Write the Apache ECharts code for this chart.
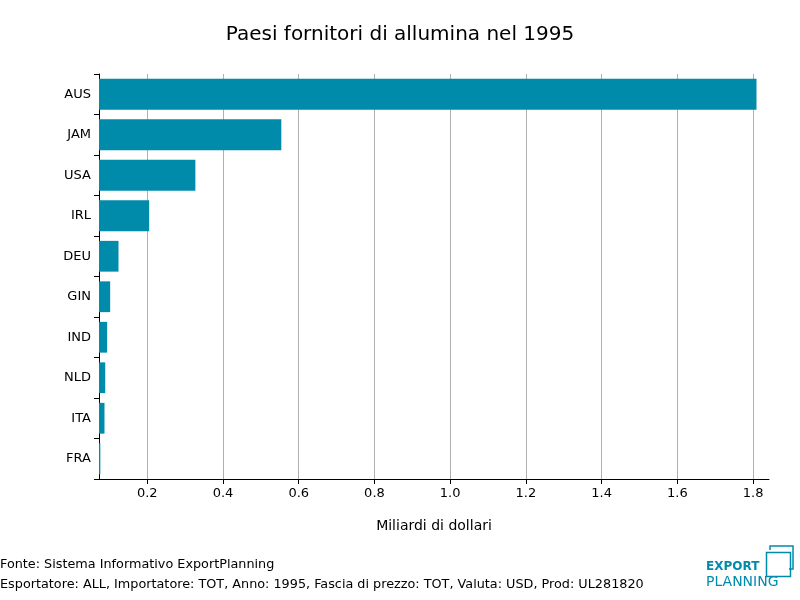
<!DOCTYPE html>
<html><head><meta charset="utf-8">
<script src="https://cdn.jsdelivr.net/npm/echarts@6/dist/echarts.min.js"></script>
<style>body{margin:0}#c{width:800px;height:600px}</style></head>
<body><div id="c"></div>
<script>
const categories = ['AUS','JAM','USA','IRL','DEU','GIN','IND','NLD','ITA','FRA'];
const values = [1.809,0.554,0.327,0.205,0.124,0.102,0.094,0.089,0.087,0.076];
const xTicks = [0.2,0.4,0.6,0.8,1.0,1.2,1.4,1.6,1.8];
const ff = 'DejaVu Sans';
const chart = echarts.init(document.getElementById('c'));
chart.setOption({
  textStyle:{fontFamily:ff},
  title:{text:'Paesi fornitori di allumina nel 1995',left:'center',top:20,textStyle:{fontFamily:ff,fontSize:20,fontWeight:'normal',color:'#000'}},
  grid:{left:99,right:31,top:74,bottom:121},
  xAxis:{type:'value',min:0.0725,max:1.842,minInterval:0.2,maxInterval:0.2,
    name:'Miliardi di dollari',nameLocation:'middle',nameGap:40,nameTextStyle:{fontSize:14,color:'#000'},
    axisLine:{show:true,lineStyle:{color:'#000'}},axisTick:{show:true,lineStyle:{color:'#000'},length:5},
    axisLabel:{color:'#000',fontSize:13,showMinLabel:false,showMaxLabel:false,
      formatter:v=>{const m=xTicks.find(t=>Math.abs(t-v)<1e-6);return m===undefined?'':m.toFixed(1);}},
    splitLine:{show:true,showMinLine:false,showMaxLine:false,lineStyle:{color:'#b0b0b0'}}},
  yAxis:{type:'category',data:categories,inverse:true,
    axisLine:{show:true,lineStyle:{color:'#000'}},axisTick:{show:true,length:5,lineStyle:{color:'#000'}},
    axisLabel:{color:'#000',fontSize:13,margin:8}},
  series:[{type:'bar',data:values,barCategoryGap:'24%',itemStyle:{color:'#008bab'}}],
  graphic:[
    {type:'text',left:0,top:558,style:{text:'Fonte: Sistema Informativo ExportPlanning',font:'12.8px DejaVu Sans',fill:'#000'}},
    {type:'text',left:0,top:578,style:{text:'Esportatore: ALL, Importatore: TOT, Anno: 1995, Fascia di prezzo: TOT, Valuta: USD, Prod: UL281820',font:'12.8px DejaVu Sans',fill:'#000'}},
    {type:'text',left:706,top:561,style:{text:'EXPORT',font:'bold 12px DejaVu Sans',fill:'#008bab'}},
    {type:'text',left:706,top:575,style:{text:'PLANNING',font:'14px DejaVu Sans',fill:'#008bab'}},
    {type:'rect',left:764,top:550,shape:{width:24,height:24},style:{fill:'none',stroke:'#008bab',lineWidth:1.5}},
    {type:'polyline',shape:{points:[[770,550],[770,546],[793,546],[793,569],[789,569]]},style:{fill:'none',stroke:'#008bab',lineWidth:1.5}}
  ]
});
</script></body></html>
